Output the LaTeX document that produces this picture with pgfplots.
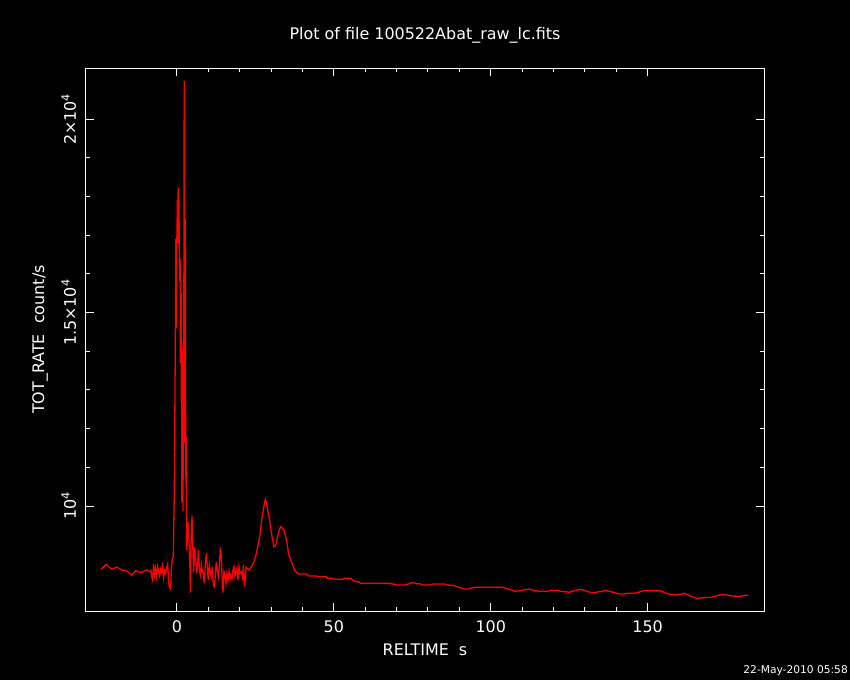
\documentclass[border=0pt]{standalone}
\usepackage{fontspec}
\setmainfont{DejaVu Sans}
\usepackage{pgfplots}
\usepackage{pgfplotstable}
\pgfplotsset{compat=1.18}
\pgfplotstableread{
x y
-24.2 8363
-22.6 8492
-20.8 8363
-19.2 8423
-17.6 8345
-16.0 8319
-14.4 8216
-13.1 8327
-11.5 8276
-9.7 8345
-8.6 8300
-8.28 8328
-8.07 8172
-7.76 8086
-7.44 8500
-7.12 8216
-6.80 8388
-6.48 8172
-6.16 8431
-5.84 8302
-5.52 8190
-5.20 8362
-4.89 8276
-4.57 8534
-4.25 8155
-3.93 8328
-3.61 8259
-3.29 8405
-2.97 8500
-2.65 8000
-2.34 7897
-2.02 7845
-1.81 8345
-1.49 8621
-1.17 8690
-0.85 10457
-0.5 14611
-0.35 16905
-0.2 14600
-0.1 16905
0.0 17000
0.1 17913
0.2 16800
0.3 17913
0.4 18230
0.5 17200
0.6 17920
0.7 17180
0.8 16421
0.9 15800
1.0 16405
1.08 13700
1.16 15800
1.24 14000
1.32 15500
1.4 12660
1.48 14200
1.55 10110
1.62 14190
1.7 12000
1.78 13800
1.85 11450
1.92 9870
2.0 12500
2.1 11600
2.2 16000
2.3 20990
2.4 12500
2.5 11630
2.58 15500
2.65 17440
2.75 12000
2.85 10600
2.95 11800
3.05 8862
3.29 9121
3.50 9595
3.72 9293
3.93 8862
4.14 8345
4.25 7758
4.46 8948
4.78 9741
5.10 8776
5.31 8302
5.63 8948
5.95 8604
6.27 8259
6.59 8517
6.80 8862
7.12 8388
7.44 8216
7.76 8474
8.08 8302
8.40 8259
8.71 8000
9.03 8517
9.35 8776
9.67 8431
9.99 8086
10.31 8474
10.62 8302
10.94 8173
11.26 8431
11.58 7957
11.90 7914
12.22 8216
12.54 8560
12.86 8345
13.18 8173
13.50 8431
13.81 8931
14.13 8672
14.45 8000
14.66 7758
14.98 8302
15.30 8216
15.62 8000
15.94 8259
16.26 8086
16.58 8302
16.90 8104
17.21 8216
17.53 8130
17.85 8345
18.17 8431
18.49 8173
18.81 8302
19.13 8388
19.45 8086
19.77 8431
20.08 8259
20.5 8300
20.9 8150
21.2 8474
21.5 7914
21.8 8100
22.0 8414
22.98 8345
23.8 8431
24.55 8560
25.19 8733
25.93 9035
26.46 9250
26.99 9638
27.52 9897
27.95 10112
28.16 10173
28.58 10069
29.01 9853
29.44 9681
29.86 9422
30.39 9164
30.92 8948
31.35 8966
31.77 9078
32.2 9250
32.62 9380
33.05 9466
33.47 9448
34.11 9380
34.64 9207
35.17 8992
35.6 8733
36.24 8621
36.88 8474
37.51 8345
38.15 8276
39.0 8242
41.3 8242
41.8 8190
44.5 8190
45.0 8173
47.5 8173
47.9 8130
49.6 8130
50.1 8104
52.8 8104
53.2 8130
55.5 8130
56.0 8087
56.8 8043
57.8 8043
58.6 8000
67.9 8000
69.5 7970
70.0 7957
72.7 7957
73.7 7983
74.8 8017
75.5 8017
76.4 7990
77.4 7990
78.3 7957
80.7 7957
81.7 7983
85.4 7983
85.9 7957
88.1 7949
88.9 7923
90.2 7888
91.3 7854
92.9 7854
93.4 7871
95.0 7897
104.0 7897
105.1 7863
106.7 7828
107.7 7794
109.3 7811
111.5 7845
113.0 7845
113.6 7819
115.7 7794
118.4 7794
118.9 7819
121.6 7819
122.1 7794
123.7 7785
125.3 7768
125.8 7794
127.4 7819
128.5 7845
129.5 7828
130.6 7794
132.2 7759
133.3 7759
134.3 7785
135.4 7794
136.4 7819
137.5 7802
139.1 7768
140.7 7725
142.8 7725
143.3 7742
145.5 7742
147.1 7768
148.7 7811
154.0 7811
155.1 7776
156.6 7725
158.8 7699
160.4 7716
161.9 7742
162.5 7716
164.1 7656
165.7 7612
167.8 7630
170.4 7638
172.0 7681
173.6 7707
175.2 7699
176.8 7673
180.0 7664
180.6 7690
182.1 7690
}\lcdata
\begin{document}
\begin{tikzpicture}
\fill[black] (0,0) rectangle (850bp,680bp);
\begin{axis}[
  at={(85.7bp,69bp)}, anchor=south west,
  width=678.6bp, height=542.7bp, scale only axis,
  xmin=-29.1, xmax=187.2, ymin=7285, ymax=21319,
  axis line style={white, line width=1bp},
  every tick/.style={white, line width=1bp},
  tick align=inside,
  major tick length=8bp, minor tick length=4bp,
  xtick={0,50,100,150}, xticklabels={0,50,100,150},
  minor x tick num=4,
  ytick={10000,15000,20000},
  yticklabels={10\textsuperscript{4},1.5×10\textsuperscript{4},2×10\textsuperscript{4}},
  minor y tick num=4,
  scaled y ticks=false,
  tick label style={white, font=\fontsize{16}{19}\selectfont},
  xticklabel shift=6bp,
  yticklabel style={rotate=90, anchor=south},
  yticklabel shift=6bp,
  title={Plot of file 100522Abat\_raw\_lc.fits},
  title style={white, font=\fontsize{16}{19}\selectfont, at={(axis description cs:0.5,1.0503)}, anchor=center},
  xlabel={RELTIME\ \ s},
  xlabel style={white, font=\fontsize{16}{19}\selectfont, at={(axis description cs:0.5,-0.072)}, anchor=center},
  ylabel={TOT\_RATE\ \ count/s},
  ylabel style={white, font=\fontsize{16}{19}\selectfont, at={(axis description cs:-0.0673,0.5)}, anchor=center, rotate=0},
  clip=true,
]
\addplot[red, line width=1.3bp, mark=none] table[x=x, y=y] {\lcdata};
\end{axis}
\node[white, anchor=base east, inner sep=0pt, font=\fontsize{10.7}{12}\selectfont] at (848bp,7bp) {22-May-2010 05:58};
\pgfresetboundingbox
\path[use as bounding box] (0,0) rectangle (850bp,680bp);
\end{tikzpicture}
\end{document}
